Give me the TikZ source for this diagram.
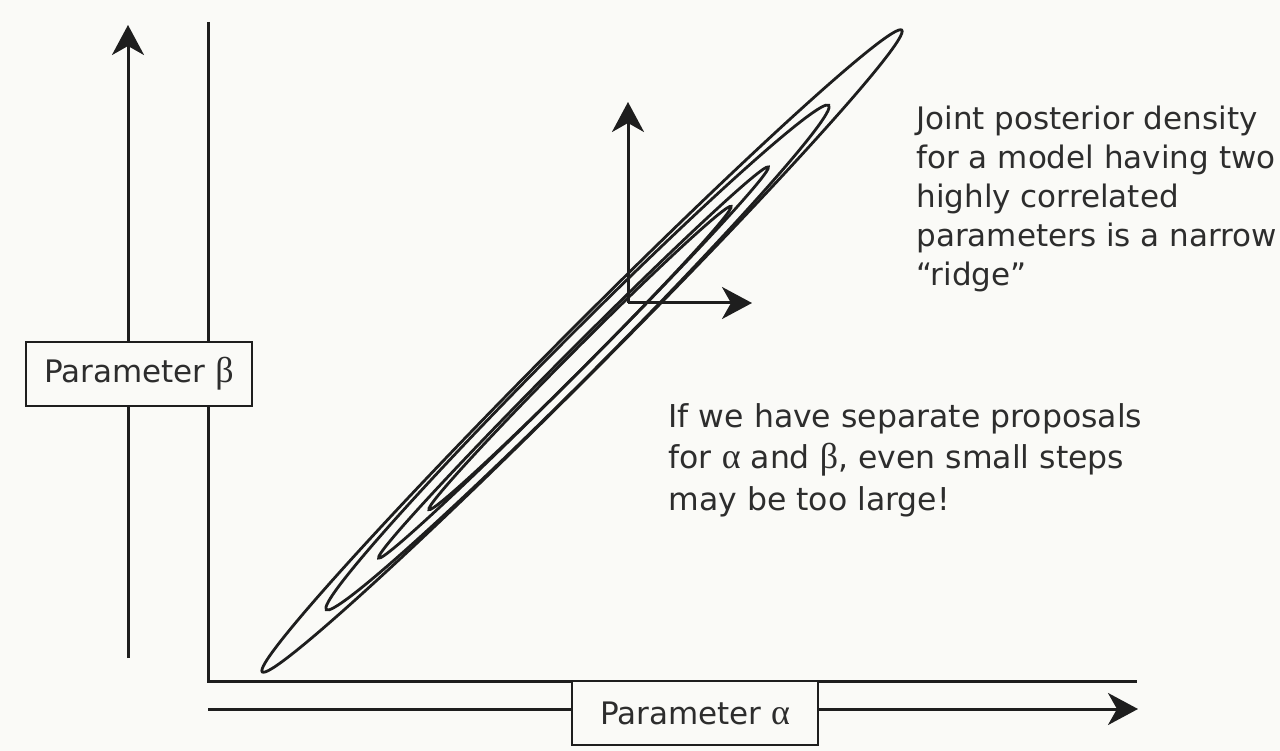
\documentclass[tikz,border=0pt]{standalone}
\usepackage{fontspec}
\setmainfont{DejaVu Sans}
\newfontfamily\grk{Liberation Serif}
\newcommand\gkl[1]{{\grk\fontsize{36}{38}\selectfont #1}}
\usetikzlibrary{arrows.meta}
\definecolor{bg}{RGB}{250,250,247}
\definecolor{ink}{RGB}{30,30,30}
\definecolor{txtc}{RGB}{45,45,45}
\begin{document}
\begin{tikzpicture}[x=1pt,y=-1pt,
  line width=3pt, draw=ink,
  arr/.style={-{Stealth[length=30pt,width=32pt,inset=9pt]}},
  ridge/.style={draw=ink,line width=2.8pt},
  pbox/.style={draw=ink,fill=bg,line width=2.6pt,inner sep=0pt,
    font=\fontsize{31}{36}\selectfont,text=txtc},
  txt/.style={anchor=base west,inner sep=0pt,text=txtc,
    font=\fontsize{31}{38}\selectfont}]
\useasboundingbox[fill=bg] (0,0) rectangle (1280,751);
% coordinates
\coordinate (b0) at (128,658);
\coordinate (b1) at (128,25);
\coordinate (ytop) at (208,22);
\coordinate (orig) at (208,681);
\coordinate (xend) at (1137,681);
\coordinate (a0) at (208,709);
\coordinate (a1) at (1138,709);
\coordinate (s0) at (628,303);
\coordinate (sy) at (628,102);
\coordinate (sx) at (752,303);
% axes
\draw[arr] (b0) -- (b1);
\draw (ytop) -- (orig) -- (xend);
\draw[arr] (a0) -- (a1);
% ridge contours
\draw[ridge] (582,351) ellipse [x radius=453pt, y radius=22.5pt, rotate=45.1];
\draw[ridge] (577.5,357.5) ellipse [x radius=356pt, y radius=20.5pt, rotate=45.1];
\draw[ridge] (573.5,362.5) ellipse [x radius=276pt, y radius=10.5pt, rotate=45.1];
\draw[ridge] (580,358) ellipse [x radius=214pt, y radius=9pt, rotate=45.1];
% proposal axes
\draw[arr] (s0) -- (sy);
\draw[arr] (s0) -- (sx);
% boxes
\node[pbox,minimum width=226pt,minimum height=64pt] (pb) at (139,374) {Parameter \gkl{β}};
\node[pbox,minimum width=246pt,minimum height=64pt] (pa) at (695,713) {Parameter \gkl{α}};
% texts
\node[txt] (j1) at (915,130) {Joint posterior density};
\node[txt] (j2) at (915,169) {for a model having two};
\node[txt] (j3) at (915,208) {highly correlated};
\node[txt] (j4) at (915,247) {parameters is a narrow};
\node[txt] (j5) at (915,286) {“ridge”};
\node[txt,font=\fontsize{31.5}{38}\selectfont] (i1) at (667,427) {If we have separate proposals};
\node[txt,font=\fontsize{31.5}{38}\selectfont] (i2) at (667,468) {for \gkl{α} and \gkl{β}, even small steps};
\node[txt,font=\fontsize{31.5}{38}\selectfont] (i3) at (667,510) {may be too large!};
\end{tikzpicture}
\end{document}
